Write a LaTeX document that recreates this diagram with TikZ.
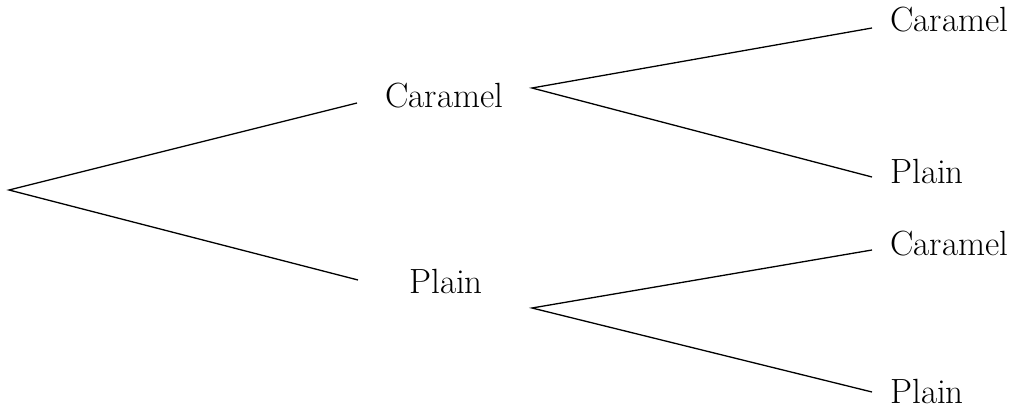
\documentclass[tikz,border=0pt]{standalone}
\usepackage{tikz}

\tikzset{
	label/.style={anchor=base west, inner sep=0pt, font=\fontsize{17.5}{20}\selectfont},
	branch/.style={line width=0.65pt}
}

\begin{document}
\begin{tikzpicture}[x=0.5pt, y=-0.5pt]
		%%%%% START %%%%%
		\useasboundingbox (0, 0) rectangle (1019, 407);
		
		\coordinate (root) at (9, 190);
		
		% first choice
		\node[label] (caramel) at (385, 107) {Caramel};
		\node[label] (plain) at (409, 293) {Plain};
		\coordinate (caramelin) at (357, 103);
		\coordinate (plainin) at (358, 280);
		\coordinate (caramelout) at (532, 88);
		\coordinate (plainout) at (532, 308);
		
		\draw[branch] (caramelin) -- (root) -- (plainin);
		
		% second choice
		\node[label] (caramelcaramel) at (890, 32) {Caramel};
		\node[label] (caramelplain) at (890, 183) {Plain};
		\node[label] (plaincaramel) at (890, 255) {Caramel};
		\node[label] (plainplain) at (890, 403) {Plain};
		\coordinate (caramelcaramelin) at (872, 28);
		\coordinate (caramelplainin) at (872, 177);
		\coordinate (plaincaramelin) at (872, 250);
		\coordinate (plainplainin) at (872, 392);
		
		\draw[branch] (caramelcaramelin) -- (caramelout) -- (caramelplainin);
		\draw[branch] (plaincaramelin) -- (plainout) -- (plainplainin);
		
		%%%%% END %%%%%
\end{tikzpicture}
\end{document}
